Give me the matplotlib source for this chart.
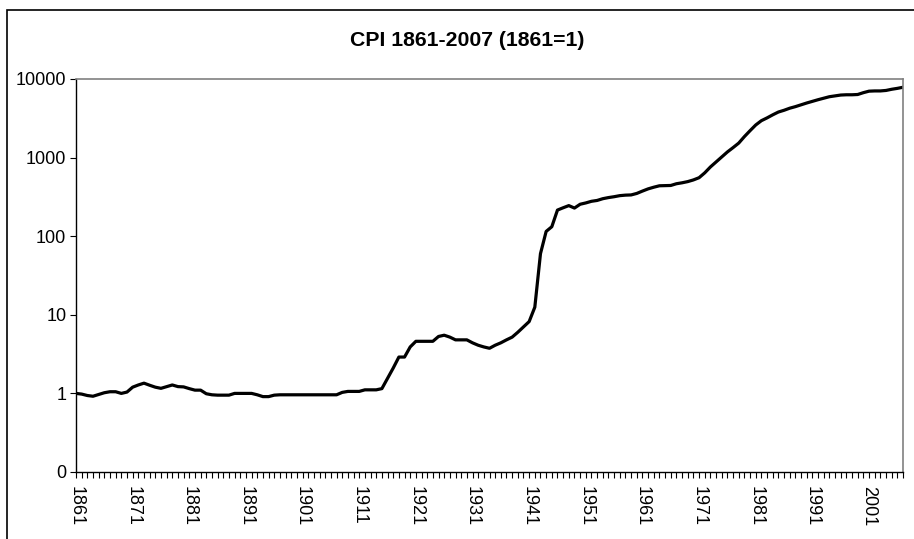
import matplotlib
matplotlib.use("Agg")
import matplotlib.pyplot as plt
import numpy as np
from matplotlib.patches import Rectangle
from matplotlib.ticker import FixedLocator, FixedFormatter, NullLocator

plt.rcParams['font.family'] = ['Liberation Sans', 'DejaVu Sans']

# Data (1861=1)
years = list(range(1861, 2008))
cpi = [
    1.00, 0.98, 0.94, 0.92, 0.97, 1.02, 1.05, 1.05, 1.00, 1.04,   # 1861-1870
    1.20, 1.28, 1.35, 1.27, 1.20, 1.16, 1.22, 1.28, 1.22, 1.21,   # 1871-1880
    1.15, 1.10, 1.10, 0.99, 0.96, 0.95, 0.95, 0.95, 1.00, 1.00,   # 1881-1890
    1.00, 1.00, 0.96, 0.91, 0.91, 0.95, 0.96, 0.96, 0.96, 0.96,   # 1891-1900
    0.96, 0.96, 0.96, 0.96, 0.96, 0.96, 0.96, 1.03, 1.06, 1.06,   # 1901-1910
    1.06, 1.11, 1.11, 1.11, 1.15, 1.55, 2.10, 2.90, 2.90, 3.90,   # 1911-1920
    4.60, 4.60, 4.60, 4.60, 5.30, 5.50, 5.20, 4.80, 4.80, 4.80,   # 1921-1930
    4.40, 4.10, 3.90, 3.75, 4.10, 4.40, 4.80, 5.20, 6.00, 7.00,   # 1931-1940
    8.20, 12.5, 60.0, 115, 132, 215, 230, 245, 228, 255,           # 1941-1950
    265, 278, 285, 300, 310, 318, 328, 333, 335, 350,              # 1951-1960
    375, 400, 420, 438, 440, 442, 465, 478, 495, 520,              # 1961-1970
    555, 640, 760, 880, 1020, 1180, 1340, 1530, 1850, 2200,        # 1971-1980
    2600, 2950, 3200, 3500, 3800, 4000, 4250, 4450, 4700, 4950,    # 1981-1990
    5200, 5450, 5700, 5950, 6100, 6250, 6300, 6300, 6350, 6700,    # 1991-2000
    7000, 7050, 7050, 7150, 7400, 7600, 7850,                      # 2001-2007
]
year_labels = [str(y) for y in range(1861, 2008, 10)]
y_ticks = [0.1, 1, 10, 100, 1000, 10000]
y_labels = ["0", "1", "10", "100", "1000", "10000"]

# Figure
fig = plt.figure(figsize=(9.14, 5.39), dpi=100)
ax = fig.add_axes([76 / 914, 67 / 539, 827 / 914, 393 / 539])

# outer chart border (cut off at right and bottom like the original)
fig.add_artist(Rectangle((7 / 914, -0.1), 1.2, 1.1 - 10 / 539,
                         transform=fig.transFigure, fill=False,
                         edgecolor='black', linewidth=1.2))

# Plotting
ax.plot(years, cpi, color='black', linewidth=2.3, solid_joinstyle='round')

ax.set_yscale('log')
ax.set_ylim(0.1, 10000)
ax.set_xlim(1861, 2007)

# Ticks
ax.yaxis.set_major_locator(FixedLocator(y_ticks))
ax.yaxis.set_major_formatter(FixedFormatter(y_labels))
ax.yaxis.set_minor_locator(NullLocator())
ax.xaxis.set_major_locator(FixedLocator(list(range(1861, 2008, 10))))
ax.xaxis.set_major_formatter(FixedFormatter(year_labels))
ax.xaxis.set_minor_locator(FixedLocator(years))

ax.tick_params(axis='y', which='major', length=4, width=0.8, labelsize=13, pad=3)
ax.tick_params(axis='x', which='both', length=4, width=0.8, direction='out')
ax.tick_params(axis='x', which='major', labelsize=13, labelrotation=-90, pad=6)

for side in ['top', 'right']:
    ax.spines[side].set_color('#808080')
    ax.spines[side].set_linewidth(1.2)
for side in ['left', 'bottom']:
    ax.spines[side].set_color('black')
    ax.spines[side].set_linewidth(1.0)

# Title
fig.text(467 / 914, 1 - 40 / 539, "CPI 1861-2007 (1861=1)", fontsize=15.3,
         fontweight='bold', ha='center', va='center')

plt.savefig("out.png", dpi=100)
plt.close()
